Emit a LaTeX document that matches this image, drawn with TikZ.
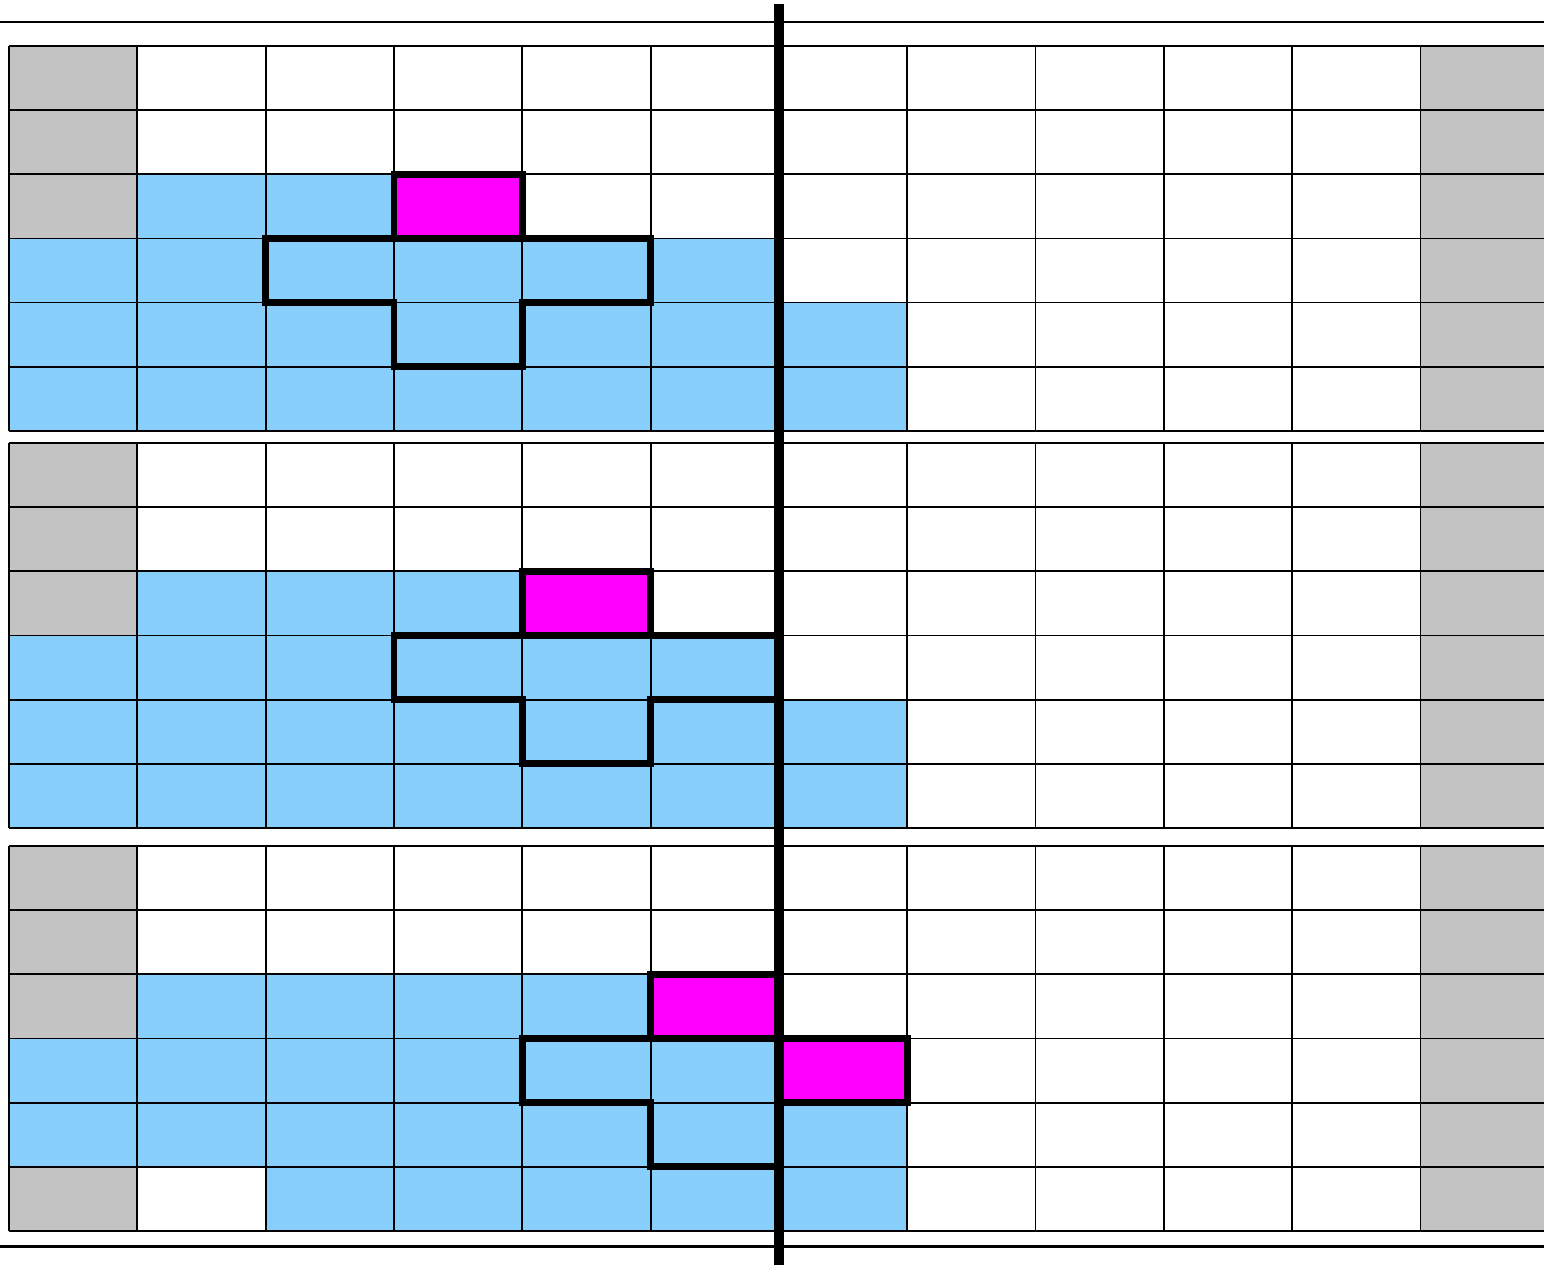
\documentclass[tikz,border=0pt]{standalone}
\usepackage{xcolor}
\usepackage{tikz}
\definecolor{wallgray}{HTML}{C3C3C3}
\definecolor{waterblue}{HTML}{87CEFA}
\definecolor{dropmag}{HTML}{FF00FF}
\begin{document}
\begin{tikzpicture}[x=0.02cm,y=-0.02cm,wall/.style={fill=wallgray},water/.style={fill=waterblue},gridline/.style={draw=black,line width=1pt},piece/.style={draw=black,line width=3.8pt,line join=miter},rail/.style={draw=black,line width=1.7pt},divider/.style={draw=black,line width=5.7pt},panel/.style={shift={(9,#1)},x=2.567cm,y=-1.2833cm}]
\useasboundingbox (0,0) rectangle (1544,1265);
\clip (0,0) rectangle (1544,1265);
\draw[rail] (0,22) -- (1544,22);
\draw[rail] (0,1246) -- (1544,1246);
% first step
\begin{scope}[panel=46]
\fill[wall] (0,0) rectangle (1,3) (11,0) rectangle (12,6);
\fill[water] (1,2) rectangle (3,3) (0,3) rectangle (6,4) (0,4) rectangle (7,6);
\foreach \c in {0,...,12} \draw[gridline] (\c,0) -- (\c,6);
\foreach \r in {0,...,6} \draw[gridline] (0,\r) -- (12,\r);
\draw[piece] (2,3) -- (5,3) -- (5,4) -- (4,4) -- (4,5) -- (3,5) -- (3,4) -- (2,4) -- cycle;
\draw[piece,fill=dropmag] (3,2) rectangle (4,3);
\end{scope}
% second step
\begin{scope}[panel=443]
\fill[wall] (0,0) rectangle (1,3) (11,0) rectangle (12,6);
\fill[water] (1,2) rectangle (4,3) (0,3) rectangle (6,4) (0,4) rectangle (7,6);
\foreach \c in {0,...,12} \draw[gridline] (\c,0) -- (\c,6);
\foreach \r in {0,...,6} \draw[gridline] (0,\r) -- (12,\r);
\draw[piece] (3,3) -- (6,3) -- (6,4) -- (5,4) -- (5,5) -- (4,5) -- (4,4) -- (3,4) -- cycle;
\draw[piece,fill=dropmag] (4,2) rectangle (5,3);
\end{scope}
% third step
\begin{scope}[panel=846]
\fill[wall] (0,0) rectangle (1,3) (0,5) rectangle (1,6) (11,0) rectangle (12,6);
\fill[water] (1,2) rectangle (5,3) (0,3) rectangle (6,4) (0,4) rectangle (7,5) (2,5) rectangle (7,6);
\foreach \c in {0,...,12} \draw[gridline] (\c,0) -- (\c,6);
\foreach \r in {0,...,6} \draw[gridline] (0,\r) -- (12,\r);
\draw[piece] (4,3) -- (6,3) -- (6,5) -- (5,5) -- (5,4) -- (4,4) -- cycle;
\draw[piece,fill=dropmag] (5,2) rectangle (6,3);
\draw[piece,fill=dropmag] (6,3) rectangle (7,4);
\end{scope}
\draw[divider] (779,4) -- (779,1265);
\end{tikzpicture}
\end{document}
